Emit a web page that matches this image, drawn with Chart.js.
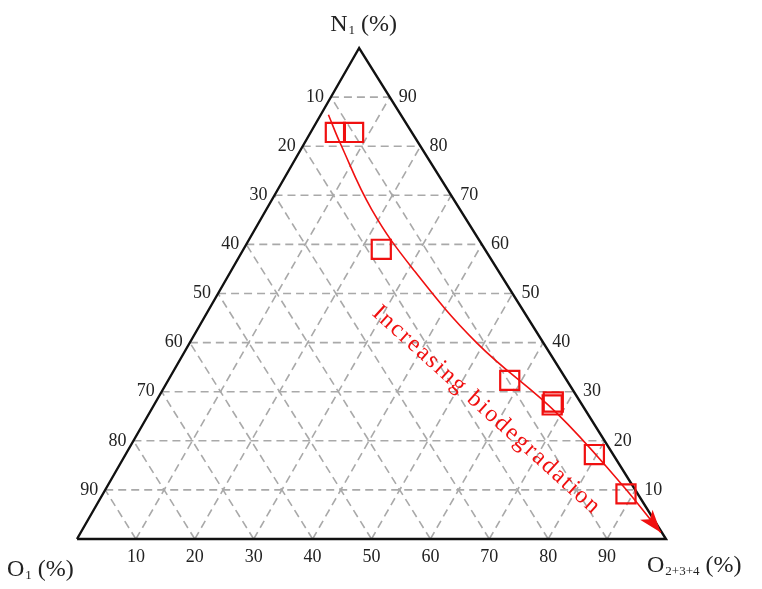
<!DOCTYPE html>
<html><head><meta charset="utf-8">
<script src="https://cdn.jsdelivr.net/npm/chart.js@4/dist/chart.umd.min.js"></script>
<style>html,body{margin:0;padding:0;background:#fff}canvas{display:block}</style>
</head><body>
<canvas id="c" width="762" height="589"></canvas>
<script>
// ---- data (percent) ----
const sampleN1   = [82.8, 82.8, 59.0, 32.3, 27.9, 27.3, 17.2, 9.2];
const sampleO1   = [13.0, 9.9, 17.6, 9.7, 4.6, 5.1, 3.2, 2.0];
const sampleO234 = [4.2, 7.3, 23.4, 58.0, 67.5, 67.6, 79.6, 88.8];
// trend curve "Increasing biodegradation"
const trendN1   = [86.4, 80.7, 67.1, 54.9, 39.9, 25.7, 11.5, 1.3];
const trendO234 = [1.3, 6.0, 17.9, 30.8, 48.8, 69.1, 86.7, 98.5];
// ticks / grid
const gridTicks = [10, 20, 30, 40, 50, 60, 70, 80, 90];
const axisTitles = { top: ['N', '1', ' (%)'], left: ['O', '1', ' (%)'], right: ['O', '2+3+4', ' (%)'] };
const trendLabel = 'Increasing biodegradation';
const trendLabelAt = { n1: 26.2, o234: 57.0 };

const SKEW = 0.479; // horizontal position of apex as fraction of base
const RED = '#f01010';
const FONT = '"Liberation Serif", "Times New Roman", serif';

const toXY = (n1, o234) => ({ x: o234 + SKEW * n1, y: n1 });

const datasets = [];
// sample points
datasets.push({
  label: 'samples',
  data: sampleN1.map((n, i) => toXY(n, sampleO234[i])),
  pointStyle: 'rect', pointRadius: 13.5, pointHoverRadius: 13.5,
  borderColor: RED, backgroundColor: 'rgba(0,0,0,0)', borderWidth: 2.2,
  showLine: false, order: 0, clip: false
});
// trend curve
datasets.push({
  label: 'trend',
  data: trendN1.map((n, i) => toXY(n, trendO234[i])),
  showLine: true, borderColor: RED, borderWidth: 1.6, pointRadius: 0,
  tension: 0.4, order: 1, clip: false
});
// triangle outline
datasets.push({
  label: 'frame',
  data: [toXY(0, 0), toXY(100, 0), toXY(0, 100), toXY(0, 0)],
  showLine: true, borderColor: '#111', borderWidth: 2.4, pointRadius: 0,
  tension: 0, order: 2, clip: false, borderJoinStyle: 'miter'
});
// grid lines
gridTicks.forEach(t => {
  const segs = [
    [toXY(t, 0), toXY(t, 100 - t)],            // constant N1
    [toXY(0, t), toXY(100 - t, t)],            // constant O2+3+4
    [toXY(0, 100 - t), toXY(100 - t, 0)]       // constant O1
  ];
  segs.forEach(s => datasets.push({
    data: s, showLine: true, borderColor: '#a9a9a9', borderWidth: 1.6,
    borderDash: [8, 5], pointRadius: 0, order: 3, clip: false
  }));
});

const ternaryPlugin = {
  id: 'ternaryText',
  afterDatasetsDraw(chart) {
    const { ctx } = chart;
    const xs = chart.scales.x, ys = chart.scales.y;
    const P = (n1, o234) => { const p = toXY(n1, o234); return [xs.getPixelForValue(p.x), ys.getPixelForValue(p.y)]; };
    ctx.save();
    ctx.fillStyle = '#222';
    ctx.font = '18px ' + FONT;
    ctx.textBaseline = 'middle';
    // left edge labels (O1)
    ctx.textAlign = 'right';
    gridTicks.forEach(t => { const [px, py] = P(t, 0); ctx.fillText(String(100 - t), px - 7, py); });
    // right edge labels (N1)
    ctx.textAlign = 'left';
    gridTicks.forEach(t => { const [px, py] = P(t, 100 - t); ctx.fillText(String(t), px + 9, py); });
    // bottom labels (O2+3+4)
    ctx.textAlign = 'center';
    gridTicks.forEach(t => { const [px, py] = P(0, t); ctx.fillText(String(t), px, py + 18); });

    // titles with subscripts
    const drawSub = (parts, x, y, align) => {
      const big = '24px ' + FONT, small = '13px ' + FONT;
      ctx.font = big; const w1 = ctx.measureText(parts[0]).width;
      const w3 = ctx.measureText(parts[2]).width;
      ctx.font = small; const w2 = ctx.measureText(parts[1]).width;
      const total = w1 + w2 + w3;
      let sx = align === 'center' ? x - total / 2 : align === 'right' ? x - total : x;
      ctx.textAlign = 'left'; ctx.textBaseline = 'alphabetic';
      ctx.font = big; ctx.fillText(parts[0], sx, y);
      ctx.font = small; ctx.fillText(parts[1], sx + w1 + 1, y + 3);
      ctx.font = big; ctx.fillText(parts[2], sx + w1 + w2 + 1, y);
    };
    ctx.fillStyle = '#222';
    const apex = P(100, 0), bl = P(0, 0), br = P(0, 100);
    drawSub(axisTitles.top, apex[0] + 4, apex[1] - 17, 'center');
    drawSub(axisTitles.left, 7, bl[1] + 37, 'left');
    drawSub(axisTitles.right, br[0] - 19, bl[1] + 33, 'left');

    // arrowhead at end of trend curve
    const meta = chart.getDatasetMeta(1);
    const pts = meta.data;
    const tip = pts[pts.length - 1], prev = pts[pts.length - 2];
    const ang = Math.atan2(tip.y - prev.y, tip.x - prev.x);
    const L = 23, W = 8;
    ctx.fillStyle = RED;
    ctx.beginPath();
    ctx.moveTo(tip.x, tip.y);
    ctx.lineTo(tip.x - L * Math.cos(ang) + W * Math.sin(ang), tip.y - L * Math.sin(ang) - W * Math.cos(ang));
    ctx.lineTo(tip.x - 0.75 * L * Math.cos(ang), tip.y - 0.75 * L * Math.sin(ang));
    ctx.lineTo(tip.x - L * Math.cos(ang) - W * Math.sin(ang), tip.y - L * Math.sin(ang) + W * Math.cos(ang));
    ctx.closePath();
    ctx.fill();

    // rotated trend label
    const [lx, ly] = P(trendLabelAt.n1, trendLabelAt.o234);
    ctx.translate(lx, ly);
    ctx.rotate(42.1 * Math.PI / 180);
    ctx.font = '24px ' + FONT;
    ctx.letterSpacing = '2px';
    ctx.textAlign = 'center'; ctx.textBaseline = 'middle';
    ctx.fillText(trendLabel, 0, 0);
    ctx.restore();
  }
};

new Chart(document.getElementById('c'), {
  type: 'scatter',
  data: { datasets },
  options: {
    responsive: false, animation: false, devicePixelRatio: 1,
    layout: { padding: { left: 77, right: 96, top: 48, bottom: 50 } },
    plugins: { legend: { display: false }, tooltip: { enabled: false } },
    scales: {
      x: { type: 'linear', min: 0, max: 100, display: false },
      y: { type: 'linear', min: 0, max: 100, display: false }
    }
  },
  plugins: [ternaryPlugin]
});
</script>
</body></html>
